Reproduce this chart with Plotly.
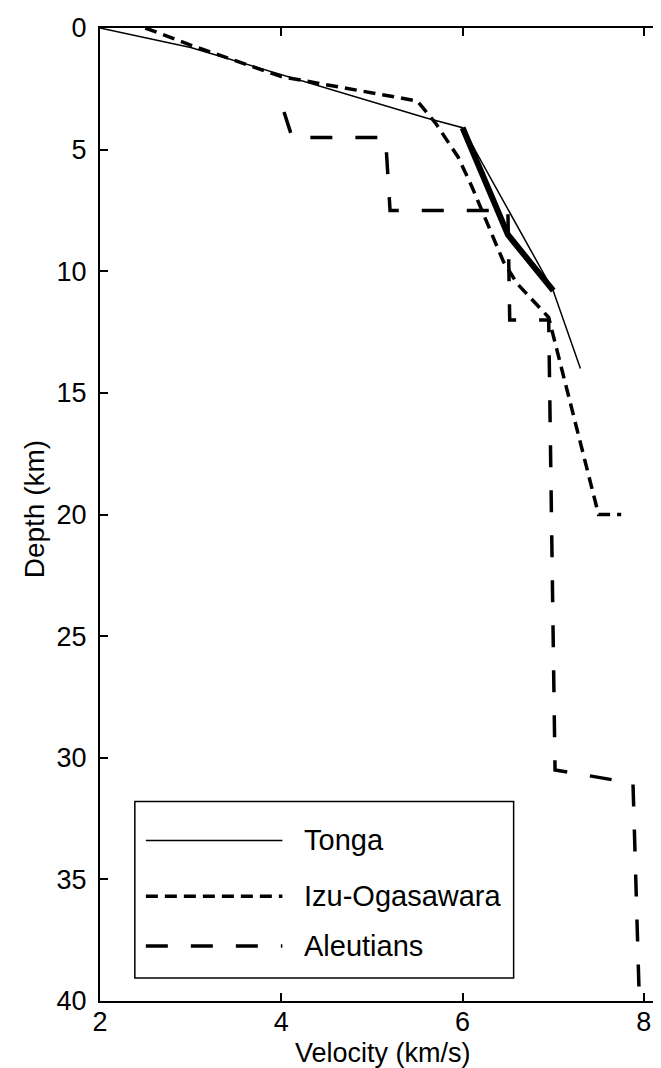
import plotly.graph_objects as go

# ---- data ----
tonga_v = [2.0, 3.0, 5.6, 6.0, 7.0, 7.3]
tonga_d = [0.0, 0.8, 3.7, 4.1, 10.8, 14.0]

tonga_bold_v = [6.0, 6.5, 7.0]
tonga_bold_d = [4.1, 8.5, 10.8]

izu_v = [2.5, 3.0, 4.0, 5.5, 5.7, 5.95, 6.1, 6.45, 6.6, 6.95, 7.5, 7.75]
izu_d = [0.0, 0.7, 2.0, 3.0, 3.9, 5.3, 6.5, 9.6, 10.5, 11.9, 20.0, 20.0]

aleut_v = [4.03, 4.12, 5.15, 5.2, 6.5, 6.52, 6.95, 7.02, 7.88, 7.95]
aleut_d = [3.45, 4.5, 4.5, 7.5, 7.5, 12.0, 12.0, 30.5, 31.05, 40.0]

legend_names = ["Tonga", "Izu-Ogasawara", "Aleutians"]
x_ticks = [2, 4, 6, 8]
y_ticks = [0, 5, 10, 15, 20, 25, 30, 35, 40]
x_title = "Velocity (km/s)"
y_title = "Depth (km)"

FONT = "Liberation Sans, Arial, Helvetica, sans-serif"

fig = go.Figure()
fig.add_trace(go.Scatter(x=tonga_v, y=tonga_d, mode="lines",
                         line=dict(color="black", width=1.5), name=legend_names[0]))
fig.add_trace(go.Scatter(x=tonga_bold_v, y=tonga_bold_d, mode="lines",
                         line=dict(color="black", width=6), showlegend=False))
fig.add_trace(go.Scatter(x=izu_v, y=izu_d, mode="lines",
                         line=dict(color="black", width=3.5, dash="12px,7px"), name=legend_names[1]))
fig.add_trace(go.Scatter(x=aleut_v, y=aleut_d, mode="lines",
                         line=dict(color="black", width=3.5, dash="22px,23px"), name=legend_names[2]))

axis_common = dict(showline=True, linecolor="black", linewidth=2, mirror="ticks",
                   ticks="inside", ticklen=8, tickwidth=1.5, tickcolor="black",
                   showgrid=False, zeroline=False,
                   tickfont=dict(family=FONT, size=27, color="black"))

fig.update_xaxes(range=[2, 8.2], tickvals=x_ticks, ticktext=[str(t) for t in x_ticks],
                 ticklabelstandoff=-4,
                 **axis_common)
fig.update_yaxes(range=[40, 0], tickvals=y_ticks, ticktext=[str(t) for t in y_ticks],
                 ticklabelstandoff=6,
                 **axis_common)

# ---- axis titles ----
annotations = [
    dict(xref="paper", yref="paper", x=0.503, y=-0.0535, text=x_title, showarrow=False,
         xanchor="center", yanchor="middle", font=dict(family=FONT, size=27, color="black")),
    dict(xref="paper", yref="paper", x=-0.117, y=0.5056, text=y_title, showarrow=False,
         textangle=-90, xanchor="center", yanchor="middle",
         font=dict(family=FONT, size=28, color="black")),
]

# ---- custom legend box (paper coordinates) ----
shapes = [dict(type="rect", xref="paper", yref="paper", x0=0.062, x1=0.736, y0=0.0236, y1=0.205,
               line=dict(color="black", width=1.5), fillcolor="white", layer="above")]
rows_y = [0.165, 0.1077, 0.0564]
styles = [dict(width=1.5, dash="solid"), dict(width=3.5, dash="12px,7px"),
          dict(width=3.5, dash="22px,23px")]
for name, yy, st in zip(legend_names, rows_y, styles):
    shapes.append(dict(type="line", xref="paper", yref="paper", x0=0.0816, x1=0.3245, y0=yy, y1=yy,
                       line=dict(color="black", width=st["width"], dash=st["dash"]), layer="above"))
    annotations.append(dict(xref="paper", yref="paper", x=0.36, y=yy, text=name, showarrow=False,
                            xanchor="left", yanchor="middle",
                            font=dict(family=FONT, size=29, color="black")))

fig.update_layout(width=661, height=1068, margin=dict(l=92, r=5, t=18, b=75),
                  plot_bgcolor="white", paper_bgcolor="white", showlegend=False,
                  shapes=shapes, annotations=annotations,
                  font=dict(family=FONT, color="black"))

fig.write_html("out.html")
